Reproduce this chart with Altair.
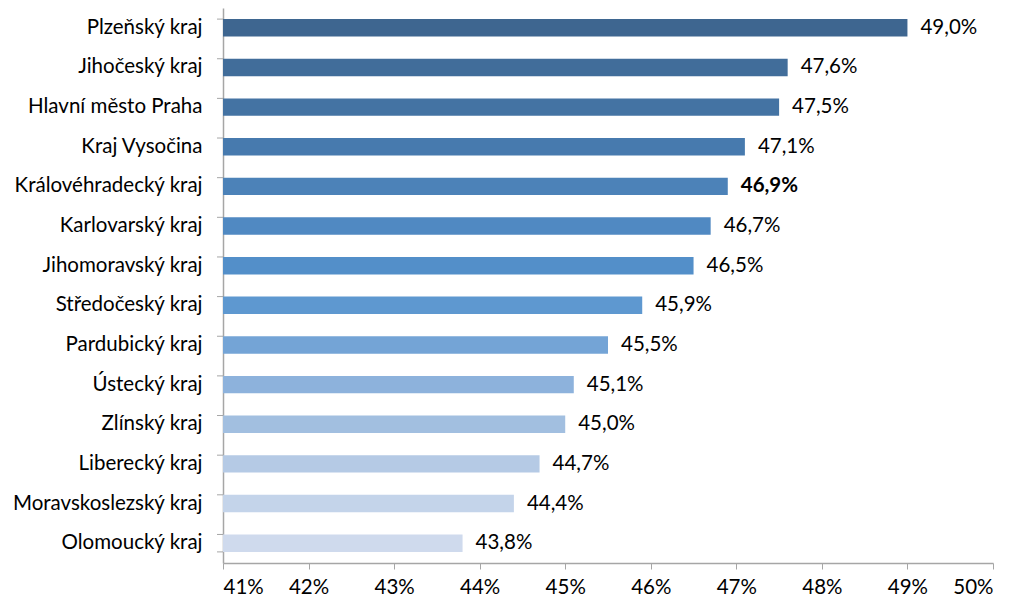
import altair as alt
import pandas as pd

regions = ["Plzeňský kraj", "Jihočeský kraj", "Hlavní město Praha", "Kraj Vysočina",
           "Královéhradecký kraj", "Karlovarský kraj", "Jihomoravský kraj", "Středočeský kraj",
           "Pardubický kraj", "Ústecký kraj", "Zlínský kraj", "Liberecký kraj",
           "Moravskoslezský kraj", "Olomoucký kraj"]
values = [49.0, 47.6, 47.5, 47.1, 46.9, 46.7, 46.5, 45.9, 45.5, 45.1, 45.0, 44.7, 44.4, 43.8]
colors = ["#3E6690", "#416D9A", "#4473A3", "#477AAE", "#4C82B8", "#5089C2", "#538FC9",
          "#5E98D0", "#74A4D6", "#8DB2DC", "#A2BFE0", "#B5CAE5", "#C4D4EA", "#CFDAED"]
highlight = "Královéhradecký kraj"
x_ticks = [0.41, 0.42, 0.43, 0.44, 0.45, 0.46, 0.47, 0.48, 0.49, 0.50]

df = pd.DataFrame({
    "region": regions,
    "value": [v / 100 for v in values],
    "label": [f"{v:.1f}".replace(".", ",") + "%" for v in values],
    "color": colors,
    "bold": [r == highlight for r in regions],
})

FONT = "Lato"
FS = 20.5
ysort = regions

y_enc = alt.Y("region:N", sort=ysort, title=None,
              scale=alt.Scale(paddingInner=0.56, paddingOuter=0.28),
              axis=alt.Axis(ticks=False, labelPadding=21, labelFontSize=FS, labelFont=FONT,
                            labelColor="#000000", domainColor="#A6A6A6", labelLimit=300))
x_scale = alt.Scale(domain=[0.41, 0.50], nice=False, zero=False)

base = alt.Chart(df)

bars = base.mark_bar().encode(
    y=y_enc,
    x=alt.X("value:Q", scale=x_scale, title=None,
            axis=alt.Axis(values=x_ticks, format=".0%", labelFontSize=FS, labelFont=FONT,
                          labelColor="#000000", domainColor="#A6A6A6", tickColor="#A6A6A6",
                          tickSize=6, labelPadding=8, grid=False)),
    x2=alt.datum(0.41),
    color=alt.Color("color:N", scale=None),
)

txt_normal = base.transform_filter("!datum.bold").mark_text(
    align="left", baseline="middle", dx=13, fontSize=FS, font=FONT, color="#000000"
).encode(y=alt.Y("region:N", sort=ysort), x="value:Q", text="label:N")

txt_bold = base.transform_filter("datum.bold").mark_text(
    align="left", baseline="middle", dx=13, fontSize=FS, font=FONT, color="#000000",
    fontWeight="bold"
).encode(y=alt.Y("region:N", sort=ysort), x="value:Q", text="label:N")

yticks_top = base.mark_rule(color="#A6A6A6").encode(
    y=alt.Y("region:N", sort=ysort, bandPosition=0),
    x=alt.value(-6), x2=alt.value(0),
)
yticks_bottom = base.transform_filter(f"datum.region == '{regions[-1]}'").mark_rule(color="#A6A6A6").encode(
    y=alt.Y("region:N", sort=ysort, bandPosition=1),
    x=alt.value(-6), x2=alt.value(0),
)

chart = alt.layer(bars, txt_normal, txt_bold, yticks_top, yticks_bottom).properties(
    width=770, height=555,
    autosize=alt.AutoSizeParams(type="none"),
    padding={"left": 215, "top": 0, "right": 20, "bottom": 40},
).configure_view(stroke=None).configure_axis(domainWidth=1.5)

chart.save("out.html", embed_options={"renderer": "svg", "actions": False})
